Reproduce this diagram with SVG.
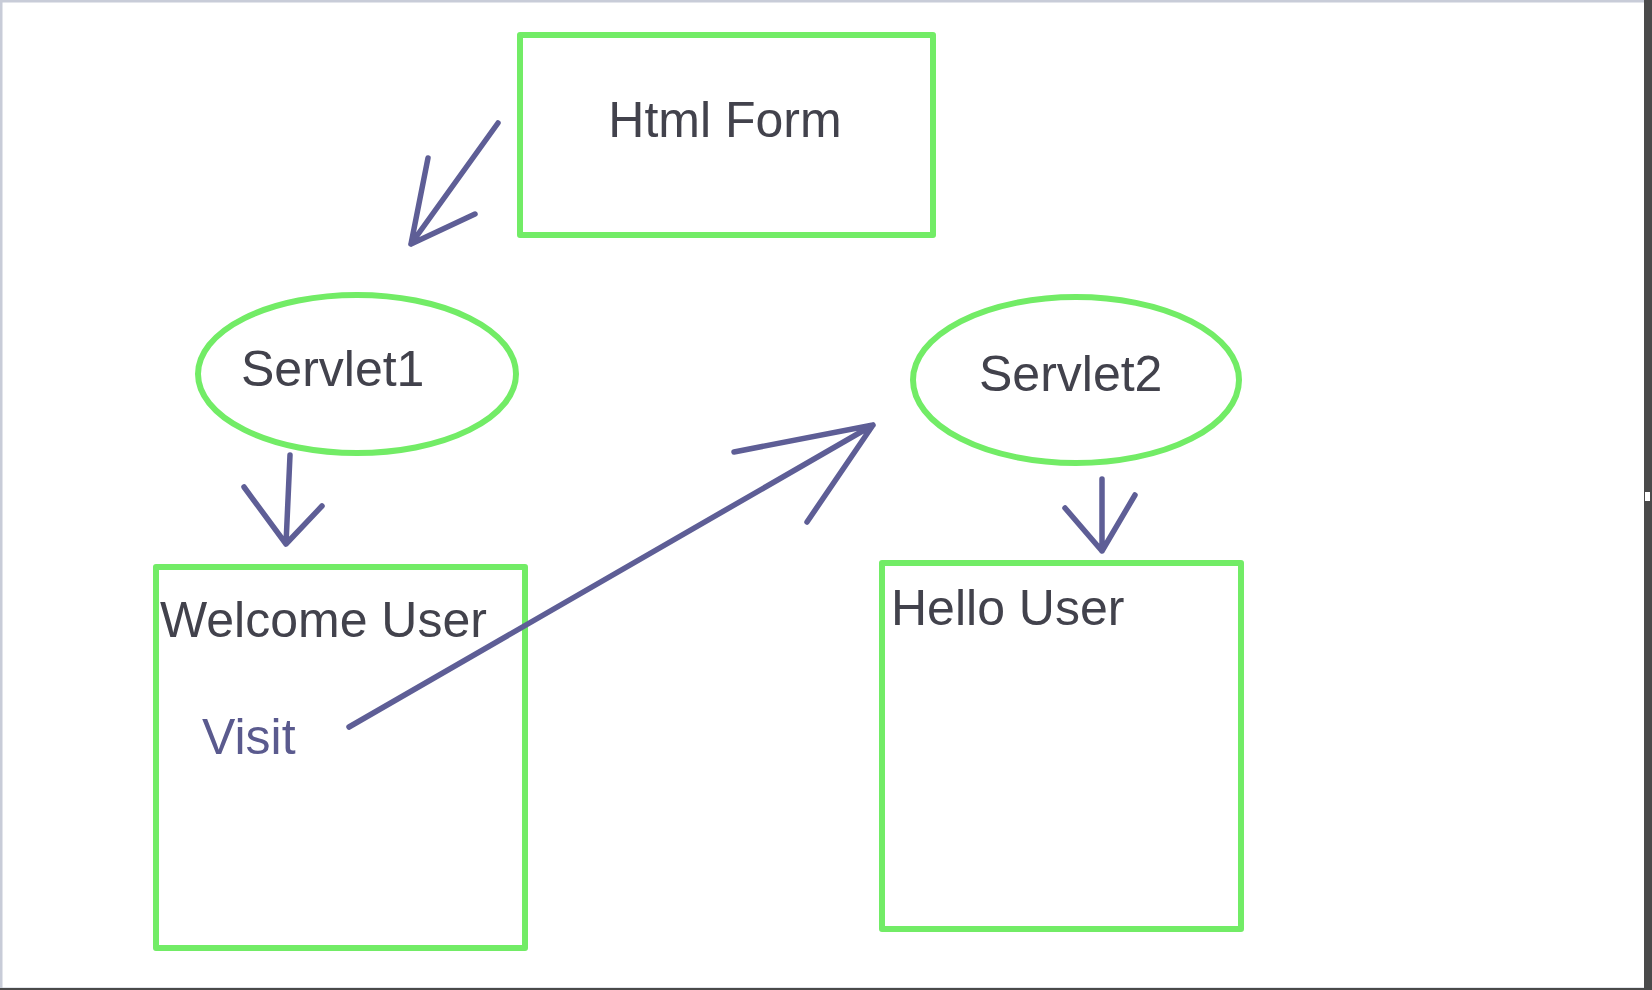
<svg xmlns="http://www.w3.org/2000/svg" width="1652" height="990" viewBox="0 0 1652 990">
<style>
.box{fill:none;stroke:#72ec66;stroke-width:6;stroke-linejoin:round}
.lbl{font-family:"Liberation Sans",Arial,sans-serif;font-size:50px;fill:#42424c}
.ln{fill:none;stroke:#5e5e96;stroke-width:5.5;stroke-linecap:round;stroke-linejoin:round}
</style>
<rect x="0" y="0" width="1652" height="990" fill="#ffffff"/>
<rect x="1" y="1" width="1650" height="988" fill="none" stroke="#c8ccd8" stroke-width="3"/>
<rect x="1644" y="0" width="8" height="990" fill="#4a4a4a"/>
<rect x="0" y="988" width="1652" height="2" fill="#4a4a4a"/>
<rect x="1645" y="492" width="5" height="9" fill="#ffffff"/>
<g id="html-form">
<rect class="box" x="520" y="35" width="413" height="200"/>
<text class="lbl" x="725" y="137" text-anchor="middle">Html Form</text>
</g>
<g id="servlet1">
<ellipse class="box" cx="357" cy="374" rx="159" ry="79"/>
<text class="lbl" x="241" y="386">Servlet1</text>
</g>
<g id="servlet2">
<ellipse class="box" cx="1076" cy="380" rx="163" ry="83"/>
<text class="lbl" x="979" y="391">Servlet2</text>
</g>
<g id="welcome-user">
<rect class="box" x="156" y="567" width="369" height="381"/>
<text class="lbl" x="160" y="637">Welcome User</text>
<text class="lbl" x="202" y="754" style="fill:#5a5a8e">Visit</text>
</g>
<g id="hello-user">
<rect class="box" x="882" y="563" width="359" height="366"/>
<text class="lbl" x="891" y="625">Hello User</text>
</g>
<g id="connectors">
<path class="ln" d="M498,123 L411,244 M428,158 L411,244 L475,214"/>
<path class="ln" d="M290,455 L286,544 M244,487 L286,544 L322,506"/>
<path class="ln" d="M349,727 L873,425 M734,452 L873,425 L807,522"/>
<path class="ln" d="M1102,479 L1102,551 M1065,508 L1102,551 L1135,495"/>
</g>
</svg>
